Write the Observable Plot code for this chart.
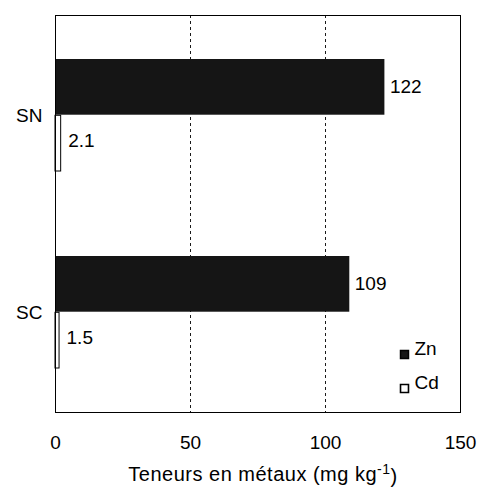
<!DOCTYPE html>
<html>
<head>
<meta charset="utf-8">
<script src="https://cdn.jsdelivr.net/npm/d3@7"></script>
<script src="https://cdn.jsdelivr.net/npm/@observablehq/plot@0.6"></script>
<style>
  html, body { margin: 0; padding: 0; background: #fff; }
  svg { display: block; }
</style>
</head>
<body>
<div id="chart"></div>
<script>
const sites = ["SN", "SC"];
const znValues = [122, 109];
const cdValues = [2.1, 1.5];
const metals = ["Zn", "Cd"];
const xTicks = [0, 50, 100, 150];
const gridTicks = [50, 100];
const xTitle = "Teneurs en métaux (mg kg";
const xTitleSup = "-1";

const W = 479, H = 496;
const mL = 55, mR = 19, mT = 15, mB = 84;
const pIn = 0.43, pOut = 0.22;
const plotH = H - mT - mB;
const step = plotH / (sites.length - pIn + 2 * pOut);
const bw = step * (1 - pIn);
const half = bw / 2;
const fs = 19;

const znColor = "#151515";

const chart = Plot.plot({
  width: W,
  height: H,
  marginLeft: mL,
  marginRight: mR,
  marginTop: mT,
  marginBottom: mB,
  style: { fontFamily: "Liberation Sans, Arial, sans-serif", fontSize: fs + "px", color: "#000", background: "#fff" },
  x: { domain: [0, 150] },
  y: { domain: sites, paddingInner: pIn, paddingOuter: pOut },
  marks: [
    Plot.ruleX(gridTicks, { stroke: "#000", strokeWidth: 0.9, strokeDasharray: "3,3" }),
    Plot.barX(sites, { x: (d, i) => znValues[i], y: d => d, insetBottom: half, fill: znColor }),
    Plot.barX(sites, { x: (d, i) => cdValues[i], y: d => d, insetTop: half, fill: "#fff", stroke: "#000", strokeWidth: 1 }),
    Plot.text(sites, { x: (d, i) => znValues[i], y: d => d, text: (d, i) => String(znValues[i]), textAnchor: "start", dx: 5, dy: -half / 2, fill: "#000" }),
    Plot.text(sites, { x: (d, i) => cdValues[i], y: d => d, text: (d, i) => String(cdValues[i]), textAnchor: "start", dx: 7, dy: half / 2 - 3, fill: "#000" }),
    Plot.frame({ stroke: "#000", strokeWidth: 1 }),
    // legend
    Plot.dot([metals[0]], { frameAnchor: "bottom-right", dx: -56, dy: -58, symbol: "square", r: 4.5, fill: znColor, stroke: "#000" }),
    Plot.dot([metals[1]], { frameAnchor: "bottom-right", dx: -56, dy: -24, symbol: "square", r: 4.5, fill: "#fff", stroke: "#000", strokeWidth: 1.6 }),
    Plot.text([metals[0]], { frameAnchor: "bottom-right", dx: -46, dy: -58, text: d => d, textAnchor: "start", fill: "#000" }),
    Plot.text([metals[1]], { frameAnchor: "bottom-right", dx: -46, dy: -24, text: d => d, textAnchor: "start", fill: "#000" }),
    Plot.axisX(xTicks, { tickSize: 0, tickPadding: 23, label: null, tickFormat: d => String(d) }),
    Plot.axisY(sites, { tickSize: 0, tickPadding: 13, label: null }),
    Plot.text([xTitle], { frameAnchor: "bottom", dx: 5, dy: 68, text: d => d, fill: "#000", fontSize: 20 })
  ]
});

// add superscript to the axis title
d3.select(chart).selectAll("text").filter(function () { return this.textContent === xTitle; })
  .attr("letter-spacing", "0.5px")
  .each(function () {
    const t = d3.select(this);
    t.append("tspan").attr("dy", "-0.45em").attr("font-size", "0.7em").text(xTitleSup);
    t.append("tspan").attr("dy", "0.45em").text(")");
  });

document.getElementById("chart").appendChild(chart);
</script>
</body>
</html>
